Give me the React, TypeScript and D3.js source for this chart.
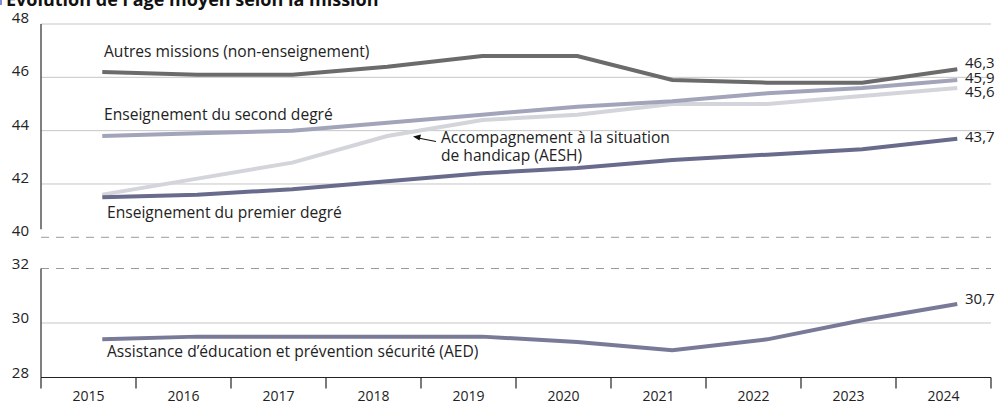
import React from "react";
import * as d3 from "d3";

const years = [2015, 2016, 2017, 2018, 2019, 2020, 2021, 2022, 2023, 2024];
const autres = [46.2, 46.1, 46.1, 46.4, 46.8, 46.8, 45.9, 45.8, 45.8, 46.3];
const second = [43.8, 43.9, 44.0, 44.3, 44.6, 44.9, 45.1, 45.4, 45.6, 45.9];
const aesh = [41.6, 42.2, 42.8, 43.8, 44.4, 44.6, 45.0, 45.0, 45.3, 45.6];
const premier = [41.5, 41.6, 41.8, 42.1, 42.4, 42.6, 42.9, 43.1, 43.3, 43.7];
const aed = [29.4, 29.5, 29.5, 29.5, 29.5, 29.3, 29.0, 29.4, 30.1, 30.7];
const topTicks = [40, 42, 44, 46, 48];
const bottomTicks = [28, 30, 32];
const endLabels = ["46,3", "45,9", "45,6", "43,7", "30,7"];

const FONT = "'Open Sans', 'DejaVu Sans', sans-serif";

export default function App() {
  const W = 997, H = 404;
  const x = d3.scaleBand<number>().domain(years).range([41, 991]).padding(0);
  const bw = x.bandwidth();
  const px = (yr: number) => (x(yr) as number) + bw * 0.645;
  const yTop = d3.scaleLinear().domain([40, 48]).range([237.3, 24]);
  const yBot = d3.scaleLinear().domain([28, 32]).range([377.5, 268.5]);

  const lineTop = d3.line<number>().x((_, i) => px(years[i])).y((v) => yTop(v));
  const lineBot = d3.line<number>().x((_, i) => px(years[i])).y((v) => yBot(v));

  const series = [
    { data: autres, color: "#6b6b6b", gen: lineTop },
    { data: aesh, color: "#d3d5db", gen: lineTop },
    { data: second, color: "#a2a4b9", gen: lineTop },
    { data: premier, color: "#686b8b", gen: lineTop },
    { data: aed, color: "#787a98", gen: lineBot },
  ];
  const endData = [
    { v: autres[9], s: yTop, dy: -5 },
    { v: second[9], s: yTop, dy: -1 },
    { v: aesh[9], s: yTop, dy: 5 },
    { v: premier[9], s: yTop, dy: -1 },
    { v: aed[9], s: yBot, dy: -4 },
  ];
  const x0 = 41, x1 = 991;
  const LS = 15.6;

  return (
    <svg width={W} height={H} style={{ position: "absolute", left: 0, top: 0, display: "block", background: "#fff" }} fontFamily={FONT}>
      <rect x={0} y={0} width={2} height={5} fill="#8a8ad0" />
      <text x={6} y={5.5} fontSize={18} fontWeight={700} fill="#111">Évolution de l'âge moyen selon la mission</text>
      {/* grid top */}
      {topTicks.map((t) => (
        <g key={"t" + t}>
          <line x1={x0} x2={x1} y1={yTop(t)} y2={yTop(t)} stroke={t === 40 ? "#9a9a9a" : "#c6c6c6"} strokeWidth={1} strokeDasharray={t === 40 ? "8,7" : undefined} />
          <text x={29} y={yTop(t) - 5} fontSize={15} textAnchor="end" dominantBaseline="middle" fill="#222">{t}</text>
        </g>
      ))}
      {bottomTicks.map((t) => (
        <g key={"b" + t}>
          {t !== 28 && <line x1={x0} x2={x1} y1={yBot(t)} y2={yBot(t)} stroke={t === 32 ? "#9a9a9a" : "#c6c6c6"} strokeWidth={1} strokeDasharray={t === 32 ? "8,7" : undefined} />}
          <text x={29} y={yBot(t) - 4} fontSize={15} textAnchor="end" dominantBaseline="middle" fill="#222">{t}</text>
        </g>
      ))}
      {/* left axes */}
      <line x1={x0} x2={x0} y1={yTop(48)} y2={yTop(40) - 8} stroke="#555" strokeWidth={1.5} />
      <line x1={x0} x2={x0} y1={yBot(32)} y2={yBot(28)} stroke="#555" strokeWidth={1.5} />
      {/* bottom axis */}
      <line x1={x0} x2={x1} y1={yBot(28)} y2={yBot(28)} stroke="#222" strokeWidth={1.2} />
      {[...years.map((yr) => x(yr) as number), x1].map((tx, i) => (
        <line key={"tk" + i} x1={tx} x2={tx} y1={yBot(28)} y2={yBot(28) + 11} stroke="#222" strokeWidth={1.2} />
      ))}
      {years.map((yr) => (
        <text key={"yl" + yr} x={(x(yr) as number) + bw / 2} y={397} fontSize={14} textAnchor="middle" dominantBaseline="middle" fill="#222">{yr}</text>
      ))}
      {/* lines */}
      {series.map((s, i) => (
        <path key={"s" + i} d={s.gen(s.data) || ""} fill="none" stroke={s.color} strokeWidth={4} strokeLinejoin="miter" />
      ))}
      {endData.map((e, i) => (
        <text key={"e" + i} x={965} y={e.s(e.v) + e.dy} fontSize={15} dominantBaseline="middle" fill="#222">{endLabels[i]}</text>
      ))}
      {/* series labels */}
      <text x={104} y={53} fontSize={LS} dominantBaseline="middle" fill="#222">Autres missions (non-enseignement)</text>
      <text x={104} y={116} fontSize={LS} dominantBaseline="middle" fill="#222">Enseignement du second degré</text>
      <text x={441} y={139} fontSize={LS} dominantBaseline="middle" fill="#222">Accompagnement à la situation</text>
      <text x={441} y={157} fontSize={LS} dominantBaseline="middle" fill="#222">de handicap (AESH)</text>
      <text x={107} y={214} fontSize={LS} dominantBaseline="middle" fill="#222">Enseignement du premier degré</text>
      <text x={107} y={353} fontSize={LS} dominantBaseline="middle" fill="#222">Assistance d’éducation et prévention sécurité (AED)</text>
      {/* arrow */}
      <line x1={436} y1={141.5} x2={418} y2={138} stroke="#111" strokeWidth={1.2} />
      <path d="M413,136.5 L421,134.5 L419.5,140.5 Z" fill="#111" />
    </svg>
  );
}
